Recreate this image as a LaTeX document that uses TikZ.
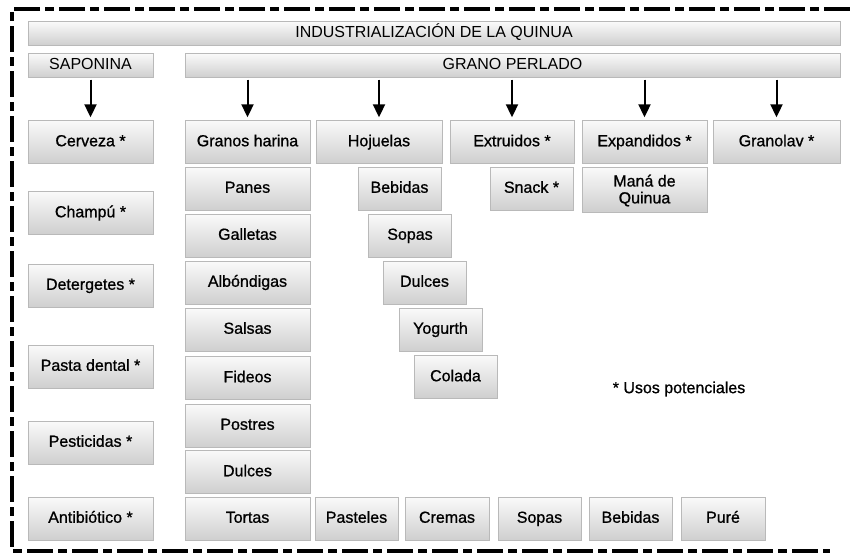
\documentclass[tikz,border=0pt]{standalone}
\usepackage{fontspec}
\setmainfont{Liberation Sans}
\newfontfamily\gruesa[FakeBold = 0.9]{Liberation Sans}
\usetikzlibrary{arrows.meta}

\begin{document}
\begin{tikzpicture}[
		x = 1pt, y = -1pt,
		caja/.style = {shape = rectangle, draw = gray!55, top color = gray!4, bottom color = gray!38, minimum width = 125pt, minimum height = 43pt, inner sep = 1pt, text height = 11.5pt, text depth = 3pt, font = \gruesa\fontsize{16}{16}\selectfont},
		angosta/.style = {caja, minimum width = 83pt},
		barra/.style = {caja, minimum height = 24pt, font = \fontsize{16}{16}\selectfont},
		flecha/.style = {-{Triangle[length = 13pt, width = 12pt]}, line width = 2pt, shorten < = 2pt, shorten > = 3pt},
	]
		\useasboundingbox (0, 0) rectangle (850, 558);
		\draw[line width = 3.5pt, dash pattern = on 26pt off 5pt on 9pt off 5pt] (850, 9) -- (12, 9) -- (12, 551) -- (830, 551);

		\node[barra, minimum width = 812pt] (titulo) at (434, 33.5) {INDUSTRIALIZACIÓN DE LA QUINUA};
		\node[barra] (saponina) at (90.5, 65.5) {SAPONINA};
		\node[barra, minimum width = 655pt] (grano) at (512.5, 65.5) {GRANO PERLADO};

		\node[caja] (cerveza) at (90.5, 142) {Cerveza *};
		\node[caja] (champu) at (90.5, 213) {Champú *};
		\node[caja] (detergetes) at (90.5, 285.5) {Detergetes *};
		\node[caja] (pasta) at (90.5, 366.5) {Pasta dental *};
		\node[caja] (pesticidas) at (90.5, 442.5) {Pesticidas *};
		\node[caja] (antibiotico) at (90.5, 518.5) {Antibiótico *};

		\node[caja] (granos) at (247.5, 142) {Granos harina};
		\node[caja, minimum width = 126pt] (hojuelas) at (379, 142) {Hojuelas};
		\node[caja, minimum width = 124pt] (extruidos) at (512, 142) {Extruidos *};
		\node[caja] (expandidos) at (644.5, 142) {Expandidos *};
		\node[caja, minimum width = 127pt] (granolav) at (776.5, 142) {Granolav *};

		\node[caja] (panes) at (247.5, 188.5) {Panes};
		\node[caja] (galletas) at (247.5, 235.5) {Galletas};
		\node[caja] (albondigas) at (247.5, 282.5) {Albóndigas};
		\node[caja] (salsas) at (247.5, 329.5) {Salsas};
		\node[caja] (fideos) at (247.5, 378) {Fideos};
		\node[caja] (postres) at (247.5, 425.5) {Postres};
		\node[caja] (dulcesA) at (247.5, 472) {Dulces};
		\node[caja] (tortas) at (247.5, 518.5) {Tortas};

		\node[angosta] (bebidasA) at (399.5, 188.5) {Bebidas};
		\node[angosta] (sopasA) at (410, 235.5) {Sopas};
		\node[angosta] (dulcesB) at (424.5, 282.5) {Dulces};
		\node[angosta] (yogurth) at (440.5, 329.5) {Yogurth};
		\node[angosta] (colada) at (455.5, 377) {Colada};

		\node[angosta] (snack) at (531.5, 188.5) {Snack *};
		\node[caja, minimum height = 45pt] (mana) at (644.5, 189.5) {\raisebox{-2pt}{\begin{tabular}{@{}c@{}}Maná de\\[0.5pt]Quinua\end{tabular}}};

		\node[angosta] (pasteles) at (356.5, 518.5) {Pasteles};
		\node[angosta, minimum width = 84pt] (cremas) at (447, 518.5) {Cremas};
		\node[angosta] (sopasB) at (539.5, 518.5) {Sopas};
		\node[angosta] (bebidasB) at (630.5, 518.5) {Bebidas};
		\node[angosta, minimum width = 84pt] (pure) at (723, 518.5) {Puré};

		\node[font = \gruesa\fontsize{16}{16}\selectfont] (nota) at (679, 389) {* Usos potenciales};

		\draw[flecha] (saponina) -- (cerveza);
		\draw[flecha] (granos |- grano.south) -- (granos);
		\draw[flecha] (hojuelas |- grano.south) -- (hojuelas);
		\draw[flecha] (extruidos |- grano.south) -- (extruidos);
		\draw[flecha] (expandidos |- grano.south) -- (expandidos);
		\draw[flecha] (granolav |- grano.south) -- (granolav);
	\end{tikzpicture}
\end{document}
